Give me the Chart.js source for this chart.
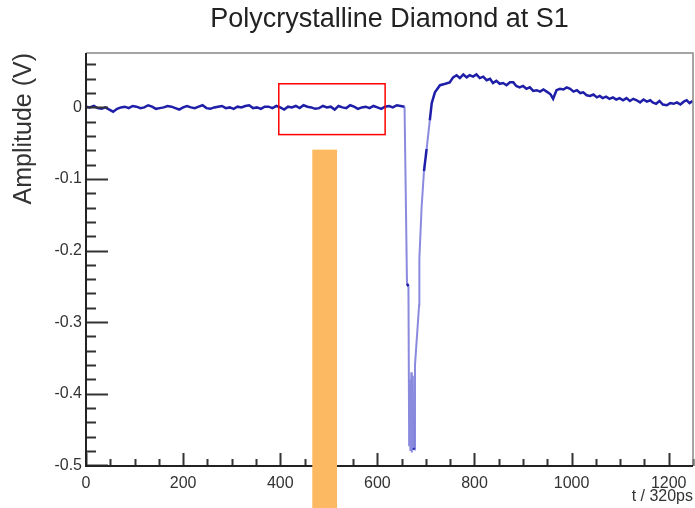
<!DOCTYPE html>
<html>
<head>
<meta charset="utf-8">
<script src="https://cdn.jsdelivr.net/npm/chart.js@4.4.1/dist/chart.umd.min.js"></script>
<style>
  html, body { margin: 0; padding: 0; background: #fff; }
  #wrap { width: 695px; height: 508px; }
</style>
</head>
<body>
<div id="wrap"><canvas id="waveChart" width="695" height="508"></canvas></div>
<script>
// Waveform (t in units of 320 ps, amplitude in V)
const baseTimes = [0, 8, 16, 24, 32, 40, 48, 56, 64, 72, 80, 88, 96, 104, 112, 120, 128, 136, 144, 152,
  160, 168, 176, 184, 192, 200, 208, 216, 224, 232, 240, 248, 256, 264, 272, 280, 288, 296, 304, 312,
  320, 328, 336, 344, 352, 360, 368, 376, 384, 392, 400, 408, 416, 424, 432, 440, 448, 456, 464, 472,
  480, 488, 496, 504, 512, 520, 528, 536, 544, 552, 560, 568, 576, 584, 592, 600, 608, 616, 624, 632,
  640, 648, 656];
const baseAmps = [0.001, 0.000, 0.002, -0.001, -0.002, 0.000, -0.003, -0.006, -0.002, 0.000,
  0.001, -0.001, 0.002, 0.001, -0.001, 0.000, 0.003, 0.001, -0.002, -0.001,
  0.000, 0.002, 0.001, -0.001, -0.003, 0.000, 0.002, 0.000, -0.001, 0.001,
  0.003, -0.001, -0.002, 0.000, 0.001, 0.002, -0.001, 0.000, -0.002, 0.001,
  0.000, 0.002, 0.003, -0.001, 0.000, -0.002, 0.001, 0.001, -0.001, 0.002,
  0.000, -0.003, 0.001, 0.000, 0.002, -0.001, 0.003, 0.001, 0.000, -0.002,
  -0.001, 0.002, 0.000, 0.001, -0.003, 0.002, 0.000, -0.001, 0.003, 0.001,
  -0.002, 0.000, 0.001, -0.001, 0.002, 0.000, -0.002, 0.001, 0.002, 0.000,
  0.003, 0.002, 0.001];

const pulseTimes = [661, 664, 665.5, 667, 668, 670, 671, 673, 674, 676, 677.5, 686, 686.5, 691, 696, 701.5,
  708, 712, 718.5, 729, 740, 749, 756, 763, 770, 777, 784, 790, 797, 804, 811, 818, 825, 832, 838, 845,
  852, 859, 866, 873, 880, 886, 893, 900, 907, 914, 921, 928, 935, 942, 951, 957, 962, 966, 969, 976,
  983, 990, 997, 1004, 1011, 1018, 1024, 1031, 1038, 1045, 1052, 1058, 1064, 1071, 1078, 1085, 1092,
  1099, 1106, 1113, 1120, 1127, 1134, 1141, 1148, 1155, 1162, 1167, 1174, 1181, 1188, 1196, 1203, 1210,
  1217, 1224, 1231, 1237, 1243, 1249];
const pulseAmps = [-0.246, -0.250, -0.472, -0.380, -0.480, -0.370, -0.482, -0.375, -0.476, -0.478, -0.360,
  -0.276, -0.211, -0.141, -0.089, -0.058, -0.018, 0.006, 0.021, 0.031, 0.033, 0.035, 0.042, 0.045, 0.041,
  0.046, 0.042, 0.045, 0.043, 0.046, 0.041, 0.043, 0.038, 0.040, 0.034, 0.037, 0.033, 0.034, 0.031, 0.035,
  0.035, 0.030, 0.028, 0.030, 0.026, 0.028, 0.023, 0.024, 0.022, 0.025, 0.021, 0.018, 0.012, 0.019, 0.024,
  0.026, 0.025, 0.028, 0.026, 0.022, 0.024, 0.020, 0.021, 0.017, 0.016, 0.018, 0.014, 0.016, 0.013, 0.015,
  0.012, 0.014, 0.011, 0.013, 0.010, 0.013, 0.009, 0.012, 0.010, 0.007, 0.011, 0.008, 0.010, 0.007, 0.005,
  0.009, 0.004, 0.003, 0.006, 0.005, 0.007, 0.004, 0.008, 0.010, 0.006, 0.009];

// Axis ticks
const xTickValues = [0, 200, 400, 600, 800, 1000, 1200];
const yTickValues = [0, -0.1, -0.2, -0.3, -0.4, -0.5];
const yTickLabels = ['0', '-0.1', '-0.2', '-0.3', '-0.4', '-0.5'];

// Highlight marks drawn over the plot (data coordinates)
const boxRegion = { x0: 397, x1: 616, y0: 0.033, y1: -0.038 };
const barRegion = { x0: 466, x1: 517, yTop: -0.059 };

const FONT = 'Liberation Sans';
const LINE_BLUE = '#1e1ea8';

const points = [];
baseTimes.forEach((t, i) => points.push({ x: t, y: baseAmps[i] }));
pulseTimes.forEach((t, i) => points.push({ x: t, y: pulseAmps[i] }));

// ROOT-style frame: inward ticks, full box, plus the overlay marks
const rootFrame = {
  id: 'rootFrame',
  afterDatasetsDraw(chart) {
    const { ctx, chartArea: a, scales: { x, y } } = chart;
    ctx.save();
    ctx.strokeStyle = '#333';
    ctx.lineWidth = 2;
    ctx.beginPath();
    // y ticks every 0.02, major every 0.1
    for (let k = -25; k * 0.02 <= y.max + 1e-9; k++) {
      const v = k * 0.02;
      if (v < y.min - 1e-9) continue;
      const py = Math.round(y.getPixelForValue(v)) + 0.5;
      const major = k % 5 === 0;
      ctx.moveTo(a.left, py);
      ctx.lineTo(a.left + (major ? 22 : 10), py);
    }
    // x ticks every 50, major every 200
    for (let v = 0; v <= x.max; v += 50) {
      const px = Math.round(x.getPixelForValue(v)) + 0.5;
      const major = v % 200 === 0;
      ctx.moveTo(px, a.bottom);
      ctx.lineTo(px, a.bottom - (major ? 13 : 7));
    }
    ctx.stroke();

    ctx.strokeStyle = '#888';
    ctx.lineWidth = 1.5;
    ctx.beginPath();
    ctx.moveTo(a.left, a.top);
    ctx.lineTo(a.right, a.top);
    ctx.lineTo(a.right, a.bottom);
    ctx.stroke();

    ctx.strokeStyle = '#222';
    ctx.lineWidth = 2;
    ctx.beginPath();
    ctx.moveTo(a.left, a.top);
    ctx.lineTo(a.left, a.bottom);
    ctx.lineTo(a.right, a.bottom);
    ctx.stroke();
    ctx.restore();
  },
  afterDraw(chart) {
    const { ctx, scales: { x, y } } = chart;
    ctx.save();
    // red box
    const bx0 = x.getPixelForValue(boxRegion.x0);
    const bx1 = x.getPixelForValue(boxRegion.x1);
    const by0 = y.getPixelForValue(boxRegion.y0);
    const by1 = y.getPixelForValue(boxRegion.y1);
    ctx.strokeStyle = '#ff0000';
    ctx.lineWidth = 1.5;
    ctx.strokeRect(bx0, by0, bx1 - bx0, by1 - by0);
    // orange bar running off the bottom
    const ox0 = x.getPixelForValue(barRegion.x0);
    const ox1 = x.getPixelForValue(barRegion.x1);
    const oy = y.getPixelForValue(barRegion.yTop);
    ctx.fillStyle = '#fdb862';
    ctx.fillRect(ox0, oy, ox1 - ox0, chart.height - oy);
    ctx.restore();
  }
};

new Chart(document.getElementById('waveChart').getContext('2d'), {
  type: 'line',
  data: {
    datasets: [{
      label: 'S1',
      data: points,
      borderColor: LINE_BLUE,
      borderWidth: 2.5,
      pointRadius: 0,
      tension: 0,
      segment: {
        // steep edges render lighter, like the anti-aliased original
        borderColor: c => Math.abs(c.p1.parsed.y - c.p0.parsed.y) > 0.04 ? 'rgba(60,60,200,0.6)' : undefined,
        borderWidth: c => Math.abs(c.p1.parsed.y - c.p0.parsed.y) > 0.04 ? 2 : undefined
      }
    }]
  },
  options: {
    responsive: false,
    devicePixelRatio: 1,
    animation: false,
    layout: { padding: { left: 0, right: 2, top: 0, bottom: 0 } },
    plugins: {
      legend: { display: false },
      tooltip: { enabled: false },
      title: {
        display: true,
        fullSize: false,
        text: 'Polycrystalline Diamond at S1',
        color: '#222',
        font: { family: FONT, size: 27, weight: 'normal' },
        padding: { top: 3, bottom: 17.6 }
      }
    },
    scales: {
      x: {
        type: 'linear',
        min: 0,
        max: 1250,
        grid: { display: false, drawTicks: false },
        border: { display: false },
        afterBuildTicks: s => { s.ticks = xTickValues.map(v => ({ value: v })); },
        afterFit: s => { s.height = 42; },
        ticks: {
          color: '#333',
          font: { family: FONT, size: 16 },
          padding: 8,
          maxRotation: 0,
          autoSkip: false,
          callback: v => String(v)
        },
        title: {
          display: true,
          text: 't / 320ps',
          align: 'end',
          color: '#333',
          font: { family: FONT, size: 16 },
          padding: { top: 0, bottom: 2 }
        }
      },
      y: {
        type: 'linear',
        min: -0.501,
        max: 0.076,
        grid: { display: false, drawTicks: false },
        border: { display: false },
        afterBuildTicks: s => { s.ticks = yTickValues.map(v => ({ value: v })); },
        afterFit: s => { s.width = 86; },
        ticks: {
          color: '#333',
          font: { family: FONT, size: 16 },
          padding: 4,
          autoSkip: false,
          callback: (v, i) => yTickLabels[i]
        },
        title: {
          display: true,
          text: 'Amplitude (V)',
          align: 'end',
          color: '#333',
          font: { family: FONT, size: 25 },
          padding: { top: 9, bottom: 0 }
        }
      }
    }
  },
  plugins: [rootFrame]
});
</script>
</body>
</html>
